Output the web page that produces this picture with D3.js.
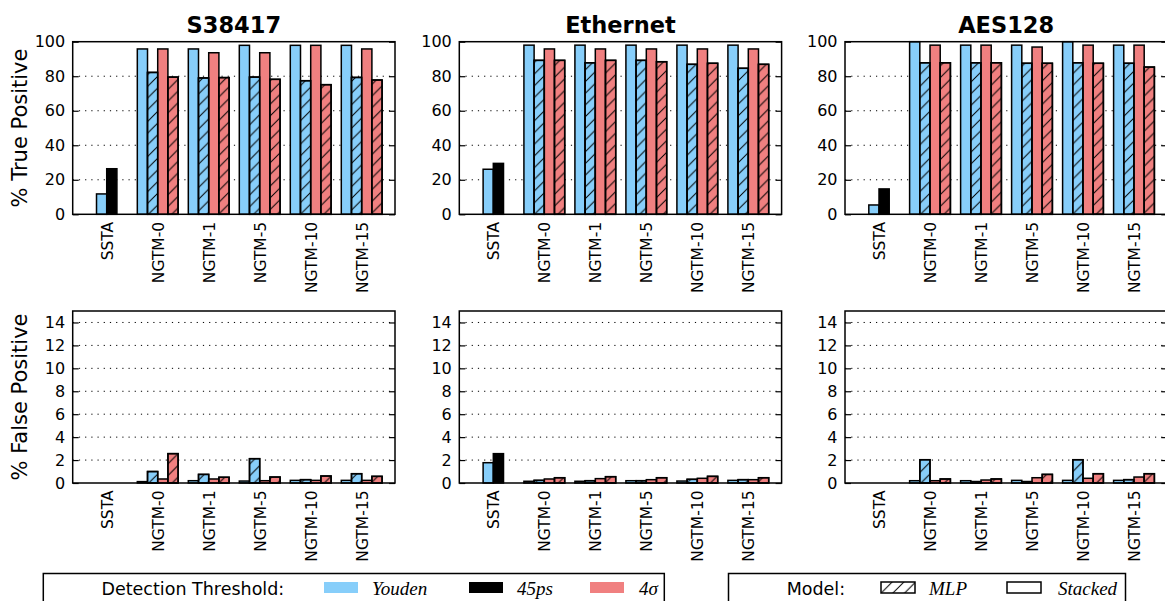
<!DOCTYPE html>
<html>
<head>
<meta charset="utf-8">
<script src="https://d3js.org/d3.v7.min.js"></script>
<style>
    body { margin: 0; background: #fff; }
    text { font-family: "DejaVu Sans", sans-serif; fill: #000; }
    .math { font-family: "Liberation Serif", serif; font-style: italic; }
</style>
</head>
<body>
<svg id="chart" width="1165" height="601"></svg>
<script>
    // benchmarks, categories
    const benchmarks = ["S38417", "Ethernet", "AES128"];
    const categories = ["SSTA", "NGTM-0", "NGTM-1", "NGTM-5", "NGTM-10", "NGTM-15"];

    // % true positive, one row per benchmark, NGTM-0..NGTM-15
    const tpYoudenStacked = [[95.8, 95.8, 97.9, 97.9, 97.9], [98, 98, 98, 98, 98], [100, 98, 98, 100, 98]];
    const tpYoudenMlp     = [[82.2, 79.0, 79.5, 77.4, 79.3], [89.2, 87.8, 89.2, 86.9, 84.6], [87.8, 87.8, 87.5, 87.8, 87.5]];
    const tpSigmaStacked  = [[95.8, 93.6, 93.6, 97.9, 95.8], [95.8, 95.8, 95.8, 95.8, 95.8], [98, 98, 96.9, 98, 98]];
    const tpSigmaMlp      = [[79.5, 79.2, 78.2, 75.1, 77.8], [89.2, 89.2, 88.4, 87.5, 86.9], [87.8, 87.8, 87.5, 87.5, 85.3]];
    const tpSstaYouden = [11.8, 26.1, 5.4];
    const tpSsta45ps   = [26.4, 29.5, 14.7];

    // % false positive
    const fpYoudenStacked = [[0.12, 0.2, 0.17, 0.23, 0.23], [0.15, 0.15, 0.2, 0.17, 0.23], [0.2, 0.2, 0.23, 0.23, 0.23]];
    const fpYoudenMlp     = [[1.0, 0.75, 2.12, 0.29, 0.81], [0.23, 0.2, 0.2, 0.32, 0.29], [2.03, 0.12, 0.12, 2.03, 0.29]];
    const fpSigmaStacked  = [[0.35, 0.35, 0.2, 0.23, 0.23], [0.35, 0.38, 0.29, 0.41, 0.29], [0.2, 0.26, 0.46, 0.41, 0.52]];
    const fpSigmaMlp      = [[2.56, 0.5, 0.52, 0.61, 0.58], [0.46, 0.55, 0.46, 0.58, 0.46], [0.35, 0.35, 0.75, 0.81, 0.81]];
    const fpSstaYouden = [0, 1.77, 0];
    const fpSsta45ps   = [0, 2.56, 0];

    const tpTicks = [0, 20, 40, 60, 80, 100];
    const fpTicks = [0, 2, 4, 6, 8, 10, 12, 14];

    const BLUE = "#87cefa", RED = "#f08080", BLACK = "#000";

    const svg = d3.select("#chart");

    // hatch pattern
    const defs = svg.append("defs");
    const hs = 11.7;
    defs.append("pattern")
        .attr("id", "hatch")
        .attr("patternUnits", "userSpaceOnUse")
        .attr("width", hs).attr("height", hs)
        .append("path")
        .attr("d", `M0,${hs} L${hs},0 M${-hs/2},${hs/2} L${hs/2},${-hs/2} M${hs/2},${hs*1.5} L${hs*1.5},${hs/2}`)
        .attr("stroke", "#000")
        .attr("stroke-width", 1);

    const panelX = [72.7, 459.3, 845];
    const panelW = 322.3;
    const rows = [
        {y0: 41.7, y1: 214.3, max: 100, ticks: tpTicks, label: "% True Positive",
         ys: tpYoudenStacked, ym: tpYoudenMlp, ss: tpSigmaStacked, sm: tpSigmaMlp, sy: tpSstaYouden, s45: tpSsta45ps},
        {y0: 311, y1: 483, max: 15, ticks: fpTicks, label: "% False Positive",
         ys: fpYoudenStacked, ym: fpYoudenMlp, ss: fpSigmaStacked, sm: fpSigmaMlp, sy: fpSstaYouden, s45: fpSsta45ps}
    ];

    function barsFor(row, b) {
        let out = [];
        categories.forEach((c, g) => {
            let vals, fills, hatch;
            if (g === 0) {
                vals = [0, row.sy[b], row.s45[b], 0];
                fills = [BLUE, BLUE, BLACK, RED];
                hatch = [false, false, false, false];
            } else {
                vals = [row.ys[b][g-1], row.ym[b][g-1], row.ss[b][g-1], row.sm[b][g-1]];
                fills = [BLUE, BLUE, RED, RED];
                hatch = [false, true, false, true];
            }
            vals.forEach((v, k) => out.push({g: g, k: k, v: v, fill: fills[k], hatch: hatch[k]}));
        });
        return out;
    }

    rows.forEach((row, r) => {
        benchmarks.forEach((bm, b) => {
            const left = panelX[b];
            const x = d3.scaleLinear().domain([-0.267, 6.053]).range([left, left + panelW]);
            const y = d3.scaleLinear().domain([0, row.max]).range([row.y1, row.y0]);
            const g = svg.append("g");

            // grid
            g.selectAll("line.grid")
                .data(row.ticks.filter(t => t > 0 && t < row.max))
                .enter().append("line")
                .attr("x1", left).attr("x2", left + panelW)
                .attr("y1", d => y(d)).attr("y2", d => y(d))
                .attr("stroke", "#000").attr("stroke-width", 1)
                .attr("stroke-dasharray", "1.2,5");

            const data = barsFor(row, b).filter(d => d.v > 0);
            g.selectAll("rect.bar")
                .data(data)
                .enter().append("rect")
                .attr("x", d => x(d.g + 0.2 * d.k))
                .attr("width", d => x(0.2) - x(0))
                .attr("y", d => y(d.v))
                .attr("height", d => y(0) - y(d.v))
                .attr("fill", d => d.fill)
                .attr("stroke", "#000")
                .attr("stroke-width", 1.5);
            g.selectAll("rect.hatch")
                .data(data.filter(d => d.hatch))
                .enter().append("rect")
                .attr("x", d => x(d.g + 0.2 * d.k))
                .attr("width", d => x(0.2) - x(0))
                .attr("y", d => y(d.v))
                .attr("height", d => y(0) - y(d.v))
                .attr("fill", "url(#hatch)")
                .attr("stroke", "#000")
                .attr("stroke-width", 1.5);

            // axes
            const yAxis = g.append("g")
                .attr("transform", `translate(${left},0)`)
                .call(d3.axisLeft(y).tickValues(row.ticks).tickSize(-6).tickPadding(7.5));
            yAxis.select(".domain").remove();
            yAxis.selectAll("line").attr("stroke-width", 1.2);
            yAxis.selectAll("text").attr("font-size", 16).attr("font-family", "DejaVu Sans");

            const yAxisR = g.append("g")
                .attr("transform", `translate(${left + panelW},0)`)
                .call(d3.axisRight(y).tickValues(row.ticks).tickSize(-6).tickFormat(""));
            yAxisR.select(".domain").remove();
            yAxisR.selectAll("line").attr("stroke-width", 1.2);

            const xAxis = g.append("g")
                .attr("transform", `translate(0,${row.y1})`)
                .call(d3.axisBottom(x).tickValues(d3.range(categories.length).map(i => i + 0.4))
                    .tickFormat((d, i) => categories[i]).tickSize(0));
            xAxis.select(".domain").remove();
            xAxis.selectAll("text")
                .attr("font-size", 15.5).attr("font-family", "DejaVu Sans")
                .attr("text-anchor", "end")
                .attr("transform", "rotate(-90)")
                .attr("x", -7.5).attr("y", 0).attr("dy", "0.36em");

            // frame
            g.append("rect")
                .attr("x", left).attr("y", row.y0)
                .attr("width", panelW).attr("height", row.y1 - row.y0)
                .attr("fill", "none").attr("stroke", "#000").attr("stroke-width", 1.5);

            if (r === 0) {
                g.append("text")
                    .attr("x", left + panelW / 2).attr("y", 33.3)
                    .attr("text-anchor", "middle")
                    .attr("font-size", 22.5).attr("font-weight", "bold")
                    .text(bm);
            }
            if (b === 0) {
                g.append("text")
                    .attr("transform", `translate(20,${(row.y0 + row.y1) / 2}) rotate(-90)`)
                    .attr("text-anchor", "middle")
                    .attr("dominant-baseline", "central")
                    .attr("font-size", 21)
                    .text(row.label);
            }
        });
    });

    // legends
    const legThreshold = [
        {name: "Youden", fill: BLUE, sx: 324, tx: 372},
        {name: "45ps", fill: BLACK, sx: 469, tx: 517},
        {name: "4σ", fill: RED, sx: 590, tx: 639}
    ];
    const legModel = [
        {name: "MLP", hatch: true, sx: 881, tx: 929},
        {name: "Stacked", hatch: false, sx: 1007, tx: 1058}
    ];
    const leg = svg.append("g");
    leg.append("rect").attr("x", 43.3).attr("y", 573.5).attr("width", 621).attr("height", 40)
        .attr("fill", "#fff").attr("stroke", "#000").attr("stroke-width", 1.5);
    leg.append("rect").attr("x", 728.5).attr("y", 573.5).attr("width", 397).attr("height", 40)
        .attr("fill", "#fff").attr("stroke", "#000").attr("stroke-width", 1.5);
    leg.append("text").attr("x", 101.5).attr("y", 595).attr("font-size", 17.5).text("Detection Threshold:");
    leg.append("text").attr("x", 786.7).attr("y", 595).attr("font-size", 17.5).text("Model:");

    leg.selectAll("rect.sw1").data(legThreshold).enter().append("rect")
        .attr("x", d => d.sx).attr("y", 582).attr("width", 34).attr("height", 11)
        .attr("fill", d => d.fill);
    leg.selectAll("text.t1").data(legThreshold).enter().append("text")
        .attr("class", "math")
        .attr("x", d => d.tx).attr("y", 595).attr("font-size", 19)
        .text(d => d.name);

    leg.selectAll("rect.sw2").data(legModel).enter().append("rect")
        .attr("x", d => d.sx).attr("y", 582).attr("width", 34).attr("height", 11)
        .attr("fill", d => d.hatch ? "url(#hatch)" : "#fff")
        .attr("stroke", "#000").attr("stroke-width", 1.5);
    leg.selectAll("text.t2").data(legModel).enter().append("text")
        .attr("class", "math")
        .attr("x", d => d.tx).attr("y", 595).attr("font-size", 19)
        .text(d => d.name);
</script>
</body>
</html>
